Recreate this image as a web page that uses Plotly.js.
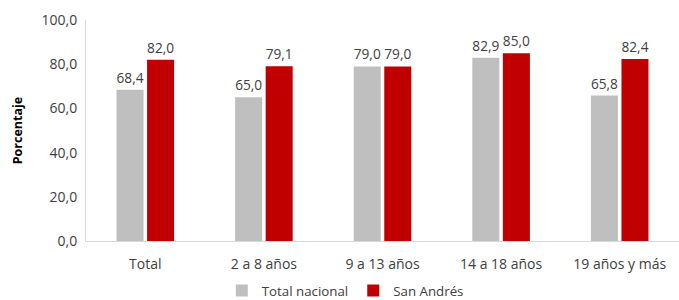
<!DOCTYPE html>
<html>
<head>
<meta charset="utf-8">
<script src="https://cdn.plot.ly/plotly-3.0.1.min.js"></script>
<style>html,body{margin:0;padding:0;background:#fff;}#chart{width:679px;height:300px;}</style>
</head>
<body>
<div id="chart"></div>
<script>
const categories = ["Total", "2 a 8 años", "9 a 13 años", "14 a 18 años", "19 años y más"];
const totalNacional = [68.4, 65.0, 79.0, 82.9, 65.8];
const sanAndres = [82.0, 79.1, 79.0, 85.0, 82.4];
const yTicks = [0, 20, 40, 60, 80, 100];

const fmt = v => v.toFixed(1).replace('.', ',');
const font = "'Segoe UI', 'Open Sans', 'Noto Sans', sans-serif";

const traces = [
  {type: 'bar', name: 'Total nacional', x: categories, y: totalNacional,
   marker: {color: '#BFBFBF'}, text: totalNacional.map(fmt), textposition: 'outside',
   textfont: {color: '#404040', size: 14, family: font}, cliponaxis: false, hoverinfo: 'none'},
  {type: 'bar', name: 'San Andrés', x: categories, y: sanAndres,
   marker: {color: '#C00000'}, text: sanAndres.map(fmt), textposition: 'outside',
   textfont: {color: '#404040', size: 14, family: font}, cliponaxis: false, hoverinfo: 'none'}
];

const layout = {
  width: 679, height: 300,
  margin: {l: 86, r: 0, t: 20, b: 59, autoexpand: false},
  paper_bgcolor: '#fff', plot_bgcolor: '#fff',
  separators: ',.',
  font: {family: font, size: 13, color: '#404040'},
  barmode: 'group', bargap: 0.485, bargroupgap: 0.115,
  showlegend: true,
  legend: {orientation: 'h', x: 0.229, xanchor: 'left', y: -0.226, yanchor: 'middle',
           font: {size: 13.3, color: '#404040'}, itemwidth: 30, tracegroupgap: 0,
           traceorder: 'normal'},
  xaxis: {showline: true, linecolor: '#D9D9D9', linewidth: 1, ticks: '', showgrid: false,
          ticklabelstandoff: 10, automargin: false,
          tickfont: {size: 14, color: '#404040'}, fixedrange: true},
  yaxis: {range: [0, 100], tickvals: yTicks, tickformat: '.1f', showgrid: false,
          showline: true, linecolor: '#D9D9D9', linewidth: 1, ticks: '', zeroline: false,
          ticklabelstandoff: 5, automargin: false, tickfont: {size: 14, color: '#404040'},
          title: {text: '<b>Porcentaje</b>', font: {size: 12.5, color: '#000'}, standoff: 16},
          fixedrange: true}
};

Plotly.newPlot('chart', traces, layout, {displayModeBar: false, staticPlot: true});
</script>
</body>
</html>
